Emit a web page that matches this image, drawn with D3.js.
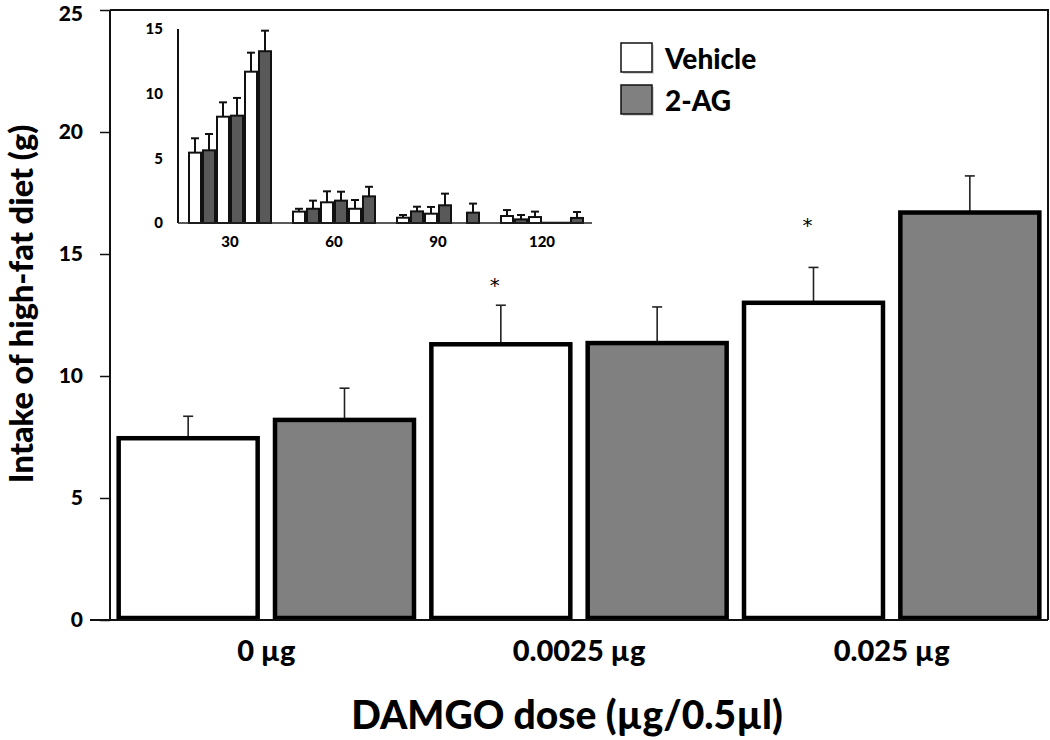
<!DOCTYPE html>
<html>
<head>
<meta charset="utf-8">
<script src="https://cdn.jsdelivr.net/npm/d3@7"></script>
<style>
  html, body { margin: 0; padding: 0; background: #fff; }
  svg { display: block; }
  text { font-family: Lato, "Open Sans", sans-serif; font-weight: 900; fill: #000; }
</style>
</head>
<body>
<svg id="chart" width="1050" height="740"></svg>
<script>
// ---------- data ----------
const doses = ["0 µg", "0.0025 µg", "0.025 µg"];
const seriesNames = ["Vehicle", "2-AG"];
const vehicleMean = [7.45, 11.3, 13.0];
const vehicleErr = [0.9, 1.6, 1.45];
const agMean = [8.2, 11.35, 16.7];
const agErr = [1.3, 1.48, 1.5];
const starDose = ["0.0025 µg", "0.025 µg"];
const starHeight = [13.85, 16.3];
const yTicks = [0, 5, 10, 15, 20, 25];

// inset: time bins, 6 bars per bin (Vehicle/2-AG at 3 doses)
const insetTimes = ["30", "60", "90", "120"];
const insetBars = ["V0", "G0", "V1", "G1", "V2", "G2"];
const insetMean30 = [5.44, 5.62, 8.22, 8.3, 11.7, 13.28];
const insetMean60 = [0.88, 1.1, 1.6, 1.73, 1.1, 2.06];
const insetMean90 = [0.41, 0.9, 0.72, 1.37, 0, 0.8];
const insetMean120 = [0.54, 0.28, 0.46, 0.02, 0.02, 0.39];
const insetErr30 = [1.11, 1.26, 1.11, 1.37, 1.47, 1.59];
const insetErr60 = [0.22, 0.63, 0.85, 0.69, 0.68, 0.74];
const insetErr90 = [0.21, 0.36, 0.52, 0.9, 0, 0.7];
const insetErr120 = [0.46, 0.34, 0.42, 0, 0, 0.46];
const insetTicks = [0, 5, 10, 15];

// ---------- main chart ----------
const svg = d3.select("#chart");
const mLeft = 110, mRight = 1048, mTop = 10, mBottom = 620;

const x0 = d3.scaleBand().domain(doses).range([mLeft, mRight]).padding(0);
const x1 = d3.scaleBand().domain(seriesNames).range([0, x0.bandwidth()])
  .paddingInner(0.0854).paddingOuter(0.0427);
const y = d3.scaleLinear().domain([0, 25]).range([mBottom, mTop]);

const fills = { "Vehicle": "#ffffff", "2-AG": "#808080" };

const mainData = [];
doses.forEach((d, i) => {
  mainData.push({ dose: d, s: "Vehicle", v: vehicleMean[i], e: vehicleErr[i] });
  mainData.push({ dose: d, s: "2-AG", v: agMean[i], e: agErr[i] });
});

// plot frame (top & right)
svg.append("path")
  .attr("d", `M${mLeft},${mTop}H${mRight}V${mBottom}`)
  .attr("fill", "none").attr("stroke", "#111").attr("stroke-width", 2);

// error bars (upper only)
const eb = svg.append("g");
mainData.forEach(d => {
  const cx = x0(d.dose) + x1(d.s) + x1.bandwidth() / 2;
  eb.append("line").attr("x1", cx).attr("x2", cx)
    .attr("y1", y(d.v)).attr("y2", y(d.v + d.e))
    .attr("stroke", "#222").attr("stroke-width", 1.6);
  eb.append("line").attr("x1", cx - 5).attr("x2", cx + 5)
    .attr("y1", y(d.v + d.e)).attr("y2", y(d.v + d.e))
    .attr("stroke", "#222").attr("stroke-width", 1.6);
});

// bars
svg.append("g").selectAll("rect").data(mainData).join("rect")
  .attr("x", d => x0(d.dose) + x1(d.s) + 2)
  .attr("width", x1.bandwidth() - 4)
  .attr("y", d => y(d.v))
  .attr("height", d => y(0) - y(d.v) - 2)
  .attr("fill", d => fills[d.s])
  .attr("stroke", "#000").attr("stroke-width", 4.5);

// significance stars
starDose.forEach((d, i) => {
  const cx = x0(d) + x1("Vehicle") + x1.bandwidth() / 2 - 6;
  svg.append("text").attr("x", cx).attr("y", y(starHeight[i]) + 10)
    .attr("text-anchor", "middle").style("font-size", "20px").style("font-weight", "normal")
    .style("font-family", "'DejaVu Sans', sans-serif").style("fill", "#000")
    .text("*");
});

// y axis
const yAxis = svg.append("g").attr("transform", `translate(${mLeft},0)`)
  .call(d3.axisLeft(y).tickValues(yTicks).tickSize(10).tickPadding(17).tickFormat(d3.format("d")));
yAxis.select(".domain").attr("stroke", "#111").attr("stroke-width", 2).attr("d", `M0,${mBottom}V${mTop}`);
yAxis.selectAll(".tick line").attr("stroke", "#111").attr("stroke-width", 1.5);
yAxis.selectAll(".tick text").style("font-size", "21px").attr("fill", "#000")
  .style("font-family", "Lato, sans-serif").style("font-weight", "900");
// keep the top label inside the picture
yAxis.selectAll(".tick text").filter(d => d === 25).attr("dy", "0.52em");

// x axis
const xAxis = svg.append("g").attr("transform", `translate(0,${mBottom})`)
  .call(d3.axisBottom(x0).tickSize(0).tickPadding(20));
xAxis.select(".domain").attr("stroke", "#111").attr("stroke-width", 2).attr("d", `M${mLeft - 20},0H${mRight}`);
xAxis.selectAll(".tick text").style("font-size", "29px").attr("fill", "#000")
  .style("font-family", "Lato, sans-serif").style("font-weight", "900");

// axis titles
svg.append("text").attr("x", 567).attr("y", 729).attr("text-anchor", "middle")
  .style("font-size", "39px").text("DAMGO dose (µg/0.5µl)");
svg.append("text").attr("transform", "translate(33,304) rotate(-90)")
  .attr("text-anchor", "middle").style("font-size", "32.5px")
  .text("Intake of high-fat diet (g)");

// legend
const legend = svg.append("g");
seriesNames.forEach((s, i) => {
  const ly = 43 + i * 42;
  legend.append("rect").attr("x", 623).attr("y", ly + 2).attr("width", 31).attr("height", 29)
    .attr("fill", "#bbb").attr("opacity", 0.6);
  legend.append("rect").attr("x", 621).attr("y", ly).attr("width", 31).attr("height", 29)
    .attr("fill", fills[s]).attr("stroke", "#111").attr("stroke-width", 1.5);
  legend.append("text").attr("x", 665).attr("y", ly + 26)
    .style("font-size", "28px").text(s);
});

// ---------- inset ----------
const inset = svg.append("g");
const iLeft = 178, iRight = 594, iTop = 29, iBottom = 223;
const xi = d3.scaleBand().domain(insetTimes).range([iLeft, iRight]).padding(0);
const xiInner = d3.scaleBand().domain(insetBars).range([10, xi.bandwidth() - 10]).padding(0);
const yi = d3.scaleLinear().domain([0, 15]).range([iBottom, iTop]);

const insetMeans = [insetMean30, insetMean60, insetMean90, insetMean120];
const insetErrs = [insetErr30, insetErr60, insetErr90, insetErr120];
const insetData = [];
insetTimes.forEach((t, i) => {
  insetBars.forEach((b, j) => {
    insetData.push({ t, b, v: insetMeans[i][j], e: insetErrs[i][j] });
  });
});

insetData.forEach(d => {
  if (d.e <= 0) return;
  const cx = xi(d.t) + xiInner(d.b) + xiInner.bandwidth() / 2;
  inset.append("line").attr("x1", cx).attr("x2", cx)
    .attr("y1", yi(d.v)).attr("y2", yi(d.v + d.e)).attr("stroke", "#111").attr("stroke-width", 2);
  inset.append("line").attr("x1", cx - 4).attr("x2", cx + 4)
    .attr("y1", yi(d.v + d.e)).attr("y2", yi(d.v + d.e)).attr("stroke", "#111").attr("stroke-width", 2);
});

inset.selectAll("rect").data(insetData).join("rect")
  .attr("x", d => xi(d.t) + xiInner(d.b) + 1)
  .attr("width", xiInner.bandwidth() - 2)
  .attr("y", d => yi(d.v))
  .attr("height", d => yi(0) - yi(d.v))
  .attr("fill", d => d.b[0] === "V" ? "#ffffff" : "#595959")
  .attr("stroke", "#111").attr("stroke-width", 2);

const iyAxis = inset.append("g").attr("transform", `translate(${iLeft},0)`)
  .call(d3.axisLeft(yi).tickValues(insetTicks).tickSize(0).tickPadding(15));
iyAxis.select(".domain").attr("stroke", "#111").attr("stroke-width", 2).attr("d", `M0,${iBottom}V${iTop}`);
iyAxis.selectAll(".tick text").style("font-size", "15px").attr("fill", "#000")
  .style("font-family", "Lato, sans-serif").style("font-weight", "900");

const ixAxis = inset.append("g").attr("transform", `translate(0,${iBottom})`)
  .call(d3.axisBottom(xi).tickSize(0).tickPadding(13));
ixAxis.select(".domain").attr("stroke", "#222").attr("stroke-width", 1.5).attr("d", `M${iLeft},0H${iRight - 2}`);
ixAxis.selectAll(".tick text").style("font-size", "15px").attr("fill", "#000")
  .style("font-family", "Lato, sans-serif").style("font-weight", "900");
</script>
</body>
</html>
